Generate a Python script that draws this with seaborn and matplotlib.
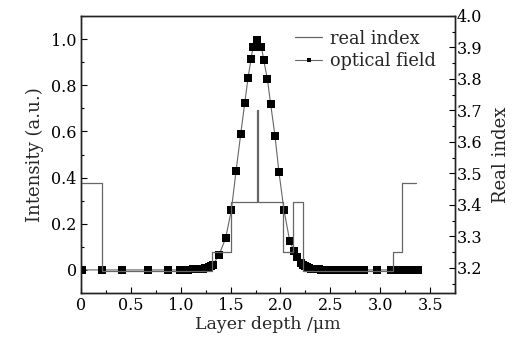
import matplotlib
matplotlib.use("Agg")
import matplotlib.pyplot as plt
import seaborn as sns
import pandas as pd
import numpy as np
from matplotlib.ticker import MultipleLocator, FormatStrFormatter, FuncFormatter

sns.set_theme(style="ticks")
plt.rcParams['font.family'] = ['DejaVu Serif']
plt.rcParams['mathtext.fontset'] = 'dejavuserif'

# Real index step profile (layer boundaries in um, index of the layer starting there)
index_bounds = [0, 0.21, 1.31, 1.50, 1.765, 1.775, 2.025, 2.125, 2.225, 3.13, 3.22, 3.36]
index_levels = [3.47, 3.19, 3.25, 3.41, 3.70, 3.41, 3.25, 3.41, 3.19, 3.25, 3.47, 3.47]

# Optical field (normalized intensity)
field_x = [0.007, 0.21, 0.41, 0.67, 0.87, 0.99, 1.07, 1.12, 1.15, 1.18, 1.20, 1.22,
           1.24, 1.26, 1.28, 1.30, 1.32, 1.384, 1.451, 1.508, 1.555, 1.602, 1.642,
           1.675, 1.705, 1.725, 1.768, 1.809, 1.832, 1.869, 1.902, 1.945, 1.985,
           2.035, 2.092, 2.135, 2.165, 2.21, 2.23, 2.25, 2.27, 2.29, 2.31, 2.33,
           2.35, 2.37, 2.39, 2.41, 2.43, 2.46, 2.50, 2.54, 2.62, 2.69, 2.77, 2.84,
           2.97, 3.11, 3.14, 3.17, 3.20, 3.23, 3.26, 3.29, 3.32, 3.35, 3.38]
field_y = [0.0, 0.0, 0.0, 0.0, 0.0, 0.0, 0.001, 0.002, 0.003, 0.004, 0.005, 0.006,
           0.007, 0.009, 0.012, 0.016, 0.022, 0.064, 0.139, 0.26, 0.43, 0.59, 0.724,
           0.832, 0.913, 0.967, 0.998, 0.967, 0.909, 0.827, 0.717, 0.581, 0.423,
           0.26, 0.127, 0.084, 0.058, 0.028, 0.020, 0.015, 0.011, 0.008, 0.006, 0.004,
           0.003, 0.002, 0.002, 0.001, 0.001, 0.0, 0.0, 0.0, 0.0, 0.0, 0.0, 0.0,
           0.0, 0.0, 0.0, 0.0, 0.0, 0.0, 0.0, 0.0, 0.0, 0.0, 0.0]

df_field = pd.DataFrame({"depth": field_x, "intensity": field_y})
df_index = pd.DataFrame({"depth": index_bounds, "n": index_levels})

fig = plt.figure(figsize=(5.18, 3.45), dpi=100)
fig.patch.set_facecolor("white")
ax = fig.add_axes([81/518, 52/345, (455-81)/518, (293-16)/345])
ax2 = ax.twinx()

sns.lineplot(data=df_field, x="depth", y="intensity", ax=ax, color="#666666",
             linewidth=0.8, marker="s", markersize=5.3, markerfacecolor="black",
             markeredgecolor="black", markeredgewidth=0, sort=False,
             label="optical field", legend=False, zorder=3)
sns.lineplot(data=df_index, x="depth", y="n", ax=ax2, color="#666666",
             linewidth=0.9, drawstyle="steps-post", sort=False,
             label="real index", legend=False)

ax.set_xlim(0, 3.75)
ax.set_ylim(-0.1, 1.1)
ax2.set_ylim(3.12, 4.0)

ax.xaxis.set_major_locator(MultipleLocator(0.5))
ax.xaxis.set_minor_locator(MultipleLocator(0.25))
ax.yaxis.set_major_locator(MultipleLocator(0.2))
ax.yaxis.set_minor_locator(MultipleLocator(0.1))
ax2.yaxis.set_major_locator(MultipleLocator(0.1))
ax2.yaxis.set_minor_locator(MultipleLocator(0.05))
ax2.set_yticks([3.2, 3.3, 3.4, 3.5, 3.6, 3.7, 3.8, 3.9, 4.0])

ax.xaxis.set_major_formatter(FuncFormatter(lambda v, p: "0" if abs(v) < 1e-9 else f"{v:.1f}"))
ax.yaxis.set_major_formatter(FuncFormatter(lambda v, p: "0" if abs(v) < 1e-9 else f"{v:.1f}"))
ax2.yaxis.set_major_formatter(FormatStrFormatter("%.1f"))

fs = 11.5
lfs = 13.0
for a in (ax, ax2):
    a.tick_params(which="both", direction="in", labelsize=fs, colors="black", pad=3)
    a.tick_params(which="major", length=4, width=0.8)
    a.tick_params(which="minor", length=2.5, width=0.8)
    for s in a.spines.values():
        s.set_visible(True)
        s.set_color("#222222")
        s.set_linewidth(1.0)
ax.tick_params(axis="y", right=False)
ax.tick_params(axis="x", top=False)
ax2.tick_params(axis="y", left=False, pad=1)

ax.set_xlabel("Layer depth /μm", fontsize=lfs - 0.5, labelpad=1)
ax.set_ylabel("Intensity (a.u.)", fontsize=lfs, labelpad=5)
ax2.set_ylabel("Real index", fontsize=lfs, labelpad=7)

h1, l1 = ax2.get_legend_handles_labels()
h2, l2 = ax.get_legend_handles_labels()
leg = ax.legend(h1 + h2, l1 + l2, loc="upper left", bbox_to_anchor=(0.572, 0.951),
                frameon=False, fontsize=12.8, handlelength=1.55, handletextpad=0.4,
                labelspacing=0.27, borderaxespad=0, borderpad=0, markerscale=0.6)

fig.savefig("out.png", dpi=100, facecolor="white")
